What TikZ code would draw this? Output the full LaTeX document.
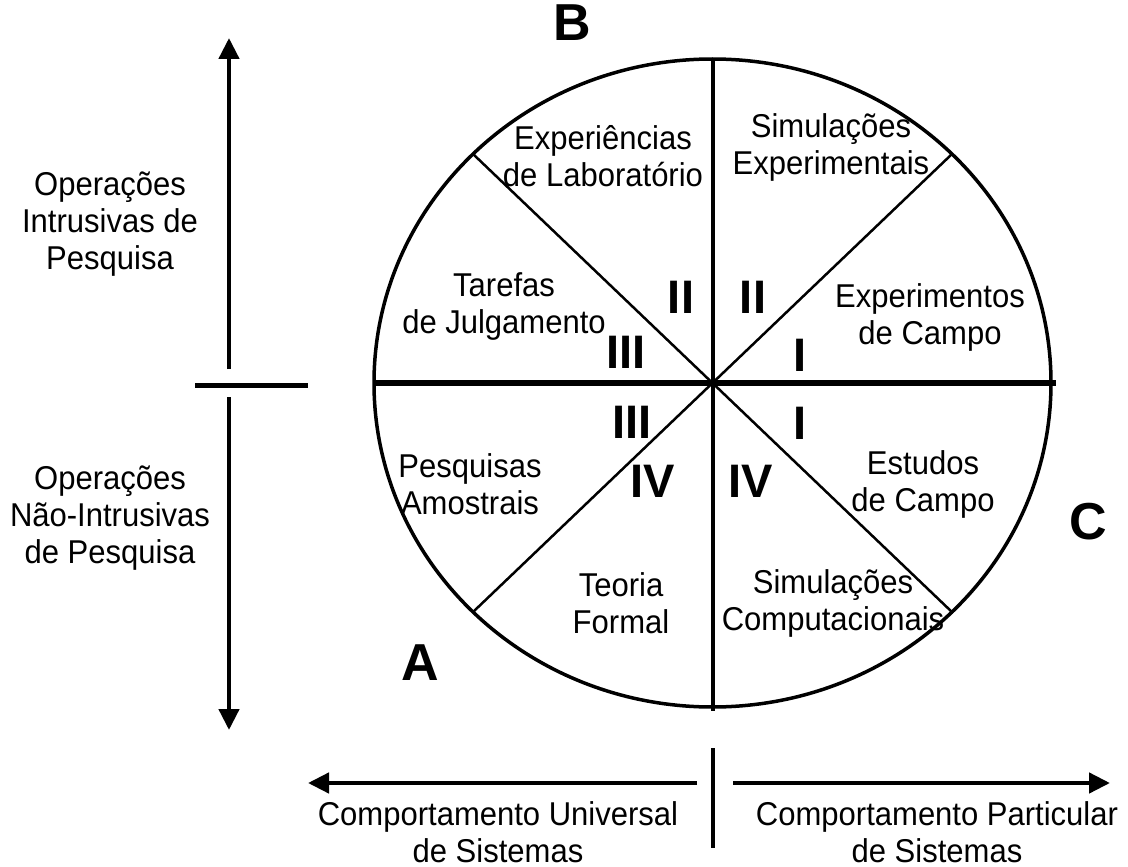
\documentclass[tikz,border=0pt]{standalone}
\usepackage{fontspec}
\setmainfont{Liberation Sans}
\newfontfamily\labelfont[FakeStretch=0.94]{Liberation Sans}
\usetikzlibrary{arrows.meta}
\begin{document}
\begin{tikzpicture}[x=1pt,y=-1pt,
  lbl/.style={font=\labelfont\fontsize{33}{37}\selectfont, align=center, inner sep=0pt},
  num/.style={font=\fontsize{47}{47}\selectfont\bfseries, inner sep=0pt},
  corner/.style={font=\fontsize{52}{52}\selectfont\bfseries, inner sep=0pt},
  axis/.style={line width=4.5pt, -{Triangle[length=21pt,width=20pt]}},
  rim/.style={line width=3.5pt},
  spoke/.style={line width=2.5pt},
]
\useasboundingbox (0,0) rectangle (1128,867);

% the wheel
\coordinate (O) at (712.5,383);
\coordinate (N) at (712.5,59);
\coordinate (S) at (712.5,711);
\coordinate (W) at (374,383);
\coordinate (E) at (1056,383);
\coordinate (NW) at (473,154);
\coordinate (NE) at (952,154);
\coordinate (SW) at (473,612);
\coordinate (SE) at (953,613);
\draw[rim] (O) ellipse [x radius=338.5, y radius=324];
\draw[line width=4pt] (N) -- (S);
\draw[line width=5.5pt] (W) -- (E);
\draw[spoke] (NW) -- (SE);
\draw[spoke] (NE) -- (SW);

% vertical axis
\coordinate (vtop) at (229,369);
\coordinate (vtip) at (229,38);
\coordinate (vbot) at (229,397);
\coordinate (vtipb) at (229,730);
\coordinate (tl) at (195,385);
\coordinate (tr) at (308,385);
\draw[axis] (vtop) -- (vtip);
\draw[axis] (vbot) -- (vtipb);
\draw[line width=5pt] (tl) -- (tr);

% horizontal axis
\coordinate (hl) at (697,783);
\coordinate (hltip) at (308,783);
\coordinate (hr) at (733,783);
\coordinate (hrtip) at (1110,783);
\coordinate (bt) at (713,748);
\coordinate (bb) at (713,848);
\draw[axis] (hl) -- (hltip);
\draw[axis] (hr) -- (hrtip);
\draw[line width=4.5pt] (bt) -- (bb);

% sector labels
\node[lbl] (lab) at (603,156) {Experiências\\de Laboratório};
\node[lbl] (simx) at (831,147) {Simulações\\Experimentais};
\node[lbl] (tar) at (504,306) {Tarefas\\de Julgamento};
\node[lbl] (expc) at (930,317) {Experimentos\\de Campo};
\node[lbl] (pesq) at (470,484) {Pesquisas\\Amostrais};
\node[lbl] (est) at (923,484) {Estudos\\de Campo};
\node[lbl] (teo) at (621,603) {Teoria\\Formal};
\node[lbl] (simc) at (833,603) {Simulações\\Computacionais};

% quadrant numerals
\node[num] (q2a) at (681,297) {II};
\node[num] (q2b) at (753,297) {II};
\node[num] (q3a) at (626,352) {III};
\node[num] (q1a) at (800,355) {I};
\node[num] (q3b) at (632,422) {III};
\node[num] (q1b) at (800,423) {I};
\node[num] (q4a) at (653,481) {IV};
\node[num] (q4b) at (751,481) {IV};

% corner letters
\node[corner] (B) at (572,23) {B};
\node[corner] (A) at (420,663) {A};
\node[corner] (C) at (1088,522) {C};

% axis labels
\node[lbl] (intr) at (110,224) {Operações\\Intrusivas de\\Pesquisa};
\node[lbl] (nintr) at (110,518) {Operações\\Não-Intrusivas\\de Pesquisa};
\node[lbl] (univ) at (498,832) {Comportamento Universal\\de Sistemas};
\node[lbl] (part) at (937,832) {Comportamento Particular\\de Sistemas};
\end{tikzpicture}
\end{document}
